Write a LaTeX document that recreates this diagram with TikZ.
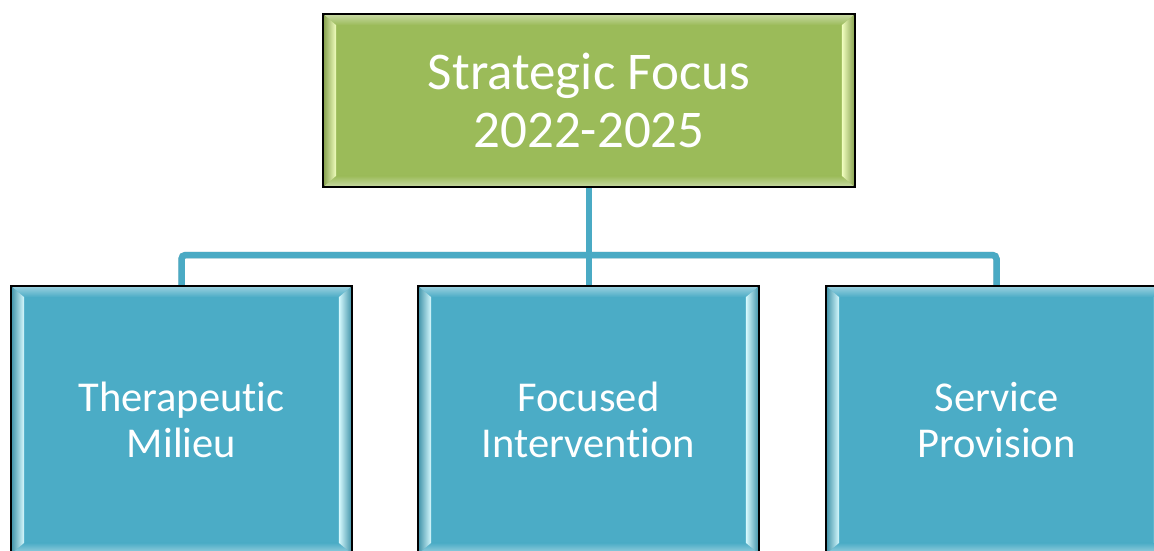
\documentclass[tikz,border=0pt]{standalone}
\usepackage{fontspec}
\setmainfont[Ligatures=NoCommon]{Carlito}
\usetikzlibrary{calc,shadows}

\definecolor{leafgreen}{HTML}{9BBB59}
\definecolor{leafhi}{HTML}{F2FFC0}
\definecolor{aqua}{HTML}{4BACC6}
\definecolor{aquahi}{HTML}{D8FBFF}
\definecolor{linkblue}{HTML}{4AAAC4}

% bevelled edges of a box: node name, base colour, highlight colour
\newcommand\bevelframe[3]{%
  \shade[top color=#2!55!white, bottom color=#2]
    (#1.north west) -- (#1.north east) -- ($(#1.north east)+(-13,11)$)
    -- ($(#1.north west)+(13,11)$) -- cycle;
  \shade[top color=#2, bottom color=#2!55!white]
    (#1.south west) -- (#1.south east) -- ($(#1.south east)+(-13,-11)$)
    -- ($(#1.south west)+(13,-11)$) -- cycle;
  \shade[left color=#2!85!black, right color=#3]
    (#1.north west) -- ($(#1.north west)+(13,11)$)
    -- ($(#1.south west)+(13,-11)$) -- (#1.south west) -- cycle;
  \shade[left color=#3, right color=#2!85!black]
    (#1.north east) -- ($(#1.north east)+(-13,11)$)
    -- ($(#1.south east)+(-13,-11)$) -- (#1.south east) -- cycle;
  \draw[line width=1.6pt, black] (#1.north west) rectangle (#1.south east);
}

\tikzset{
  x=1pt, y=-1pt,
  box/.style={draw=black, line width=1.6pt, inner sep=0pt, text=white,
    align=center, font=\fontsize{42.5}{46}\selectfont,
    drop shadow={shadow xshift=2pt, shadow yshift=-2pt, opacity=0.25}},
  headbox/.style={box, fill=leafgreen, minimum width=530pt, minimum height=171pt,
    font=\fontsize{53}{58}\selectfont},
  itembox/.style={box, fill=aqua, minimum width=339pt, minimum height=266pt},
  link/.style={linkblue, line width=6.5pt, rounded corners=4pt},
  linkshade/.style={black!35, opacity=0.5, line width=6.5pt, rounded corners=4pt},
}

\begin{document}
\begin{tikzpicture}
\useasboundingbox (0,0) rectangle (1154,550);

\node[headbox] (top) at (589,100.5) {Strategic Focus\\2022-2025};
\node[itembox] (b1) at (181.5,420) {Therapeutic\\Milieu};
\node[itembox] (b2) at (588.5,420) {Focused\\Intervention};
\node[itembox] (b3) at (996.5,420) {Service\\Provision};

\bevelframe{top}{leafgreen}{leafhi}
\bevelframe{b1}{aqua}{aquahi}
\bevelframe{b2}{aqua}{aquahi}
\bevelframe{b3}{aqua}{aquahi}

% connectors from the heading to the three areas
\coordinate (bar) at (589,255);
\draw[linkshade, shift={(-1.2pt,1.2pt)}] (b1.north) |- (bar) -| (b3.north);
\draw[linkshade, shift={(-1.2pt,1.2pt)}] (top.south) -- (top.south |- b2.north);
\draw[link] (b1.north) |- (bar) -| (b3.north);
\draw[link] (top.south) -- (top.south |- b2.north);
\draw[line width=1.6pt, black] (b1.north west) -- (b1.north east)
  (b2.north west) -- (b2.north east) (b3.north west) -- (b3.north east)
  (top.south west) -- (top.south east);
\end{tikzpicture}
\end{document}
